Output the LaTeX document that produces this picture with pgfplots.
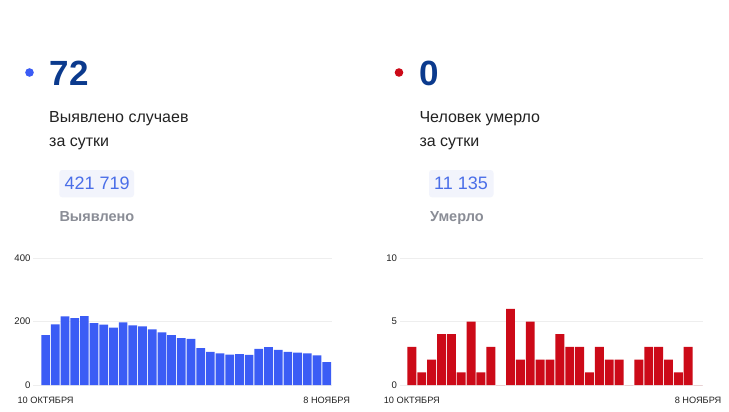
\documentclass[border=0pt]{standalone}
\usepackage{fontspec}
\setmainfont{Liberation Sans}
\usepackage{pgfplots}
\pgfplotsset{compat=1.18}

\definecolor{barblue}{HTML}{3B5CF5}
\definecolor{barred}{HTML}{CC0A18}
\definecolor{navy}{HTML}{0B3A8D}
\definecolor{boxbg}{HTML}{F2F4FC}
\definecolor{boxtxt}{HTML}{4A6EE8}
\definecolor{muted}{HTML}{8A8D96}
\definecolor{ink}{HTML}{222222}
\definecolor{gridc}{HTML}{EEEEEE}

\newcommand{\fs}[1]{\fontsize{#1}{#1}\selectfont}

\pgfplotsset{
  mini/.style={
    scale only axis,
    anchor=south west,
    height=127pt,
    ymin=0,
    axis line style={draw=none},
    major tick length=0pt,
    ymajorgrids,
    grid style={gridc, line width=0.8pt},
    xtick={0,29},
    xticklabels={10 ОКТЯБРЯ, 8 НОЯБРЯ},
    xticklabel style={font=\fs{9.2}, text=ink, yshift=-9pt},
    yticklabel style={font=\fs{9.6}, text=ink, xshift=0.5pt},
    xmax=29.5,
    clip=false,
  }
}

\begin{document}
\begin{tikzpicture}
\useasboundingbox (0,0) rectangle (729pt,-412pt);
\fill[white] (0,0) rectangle (729pt,-412pt);

% left panel text
\fill[barblue] (29.5pt,-72.5pt) circle (4.3pt);
\node[anchor=base west, inner sep=0, text=navy, font=\fs{35}\bfseries] at (49.5pt,-85pt) {72};
\node[anchor=base west, inner sep=0, text=ink, font=\fs{16}] at (49pt,-122.7pt) {Выявлено случаев};
\node[anchor=base west, inner sep=0, text=ink, font=\fs{16}] at (49pt,-146.3pt) {за сутки};
\fill[boxbg, rounded corners=3pt] (59.3pt,-170pt) rectangle (134pt,-197.3pt);
\node[anchor=base west, inner sep=0, text=boxtxt, font=\fs{18}] at (64.3pt,-189.3pt) {421 719};
\node[anchor=base west, inner sep=0, text=muted, font=\fs{14.5}\bfseries] at (59.3pt,-221pt) {Выявлено};

% right panel text
\fill[barred] (399pt,-72.5pt) circle (4.3pt);
\node[anchor=base west, inner sep=0, text=navy, font=\fs{35}\bfseries] at (419.5pt,-85pt) {0};
\node[anchor=base west, inner sep=0, text=ink, font=\fs{16}] at (419.3pt,-122.7pt) {Человек умерло};
\node[anchor=base west, inner sep=0, text=ink, font=\fs{16}] at (419.3pt,-146.3pt) {за сутки};
\fill[boxbg, rounded corners=3pt] (429pt,-170pt) rectangle (493.5pt,-197.3pt);
\node[anchor=base west, inner sep=0, text=boxtxt, font=\fs{18}] at (434pt,-189.3pt) {11 135};
\node[anchor=base west, inner sep=0, text=muted, font=\fs{14.5}\bfseries] at (430pt,-221pt) {Умерло};

% cases per day
\begin{axis}[mini,
  at={(33.5pt,-385pt)},
  width=298pt,
  xmin=-1.25,
  ymax=400,
  ytick={0,200,400},
  yticklabels={0,200,400},
]
\addplot[ybar, bar width=8.7pt, fill=barblue, draw=none] coordinates {
  (0,157) (1,191) (2,216) (3,211) (4,217) (5,195) (6,190) (7,181) (8,197) (9,188)
  (10,185) (11,175) (12,166) (13,157) (14,148) (15,145) (16,116) (17,104) (18,100) (19,96)
  (20,97) (21,95) (22,114) (23,119) (24,111) (25,104) (26,102) (27,100) (28,93) (29,72)
};
\end{axis}

% deaths per day
\begin{axis}[mini,
  at={(400pt,-385pt)},
  width=303pt,
  xmin=-1.2,
  ymax=10,
  ytick={0,5,10},
  yticklabels={0,5,10},
]
\addplot[ybar, bar width=8.9pt, fill=barred, draw=none] coordinates {
  (0,3) (1,1) (2,2) (3,4) (4,4) (5,1) (6,5) (7,1) (8,3) (9,0)
  (10,6) (11,2) (12,5) (13,2) (14,2) (15,4) (16,3) (17,3) (18,1) (19,3)
  (20,2) (21,2) (22,0) (23,2) (24,3) (25,3) (26,2) (27,1) (28,3) (29,0)
};
\end{axis}
\end{tikzpicture}
\end{document}
